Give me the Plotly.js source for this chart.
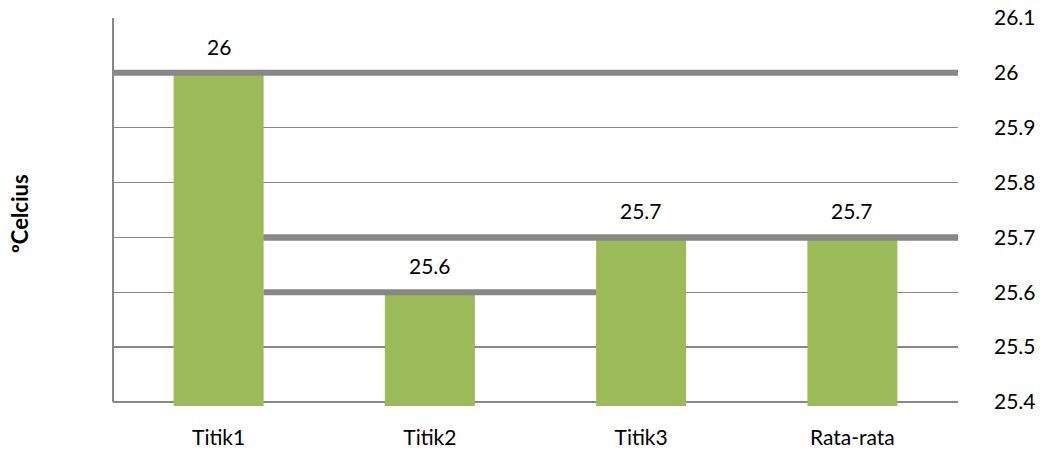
<!DOCTYPE html>
<html>
<head>
<meta charset="utf-8">
<script src="https://cdn.plot.ly/plotly-3.0.1.min.js"></script>
<style>html,body{margin:0;padding:0;background:#fff;}#chart{width:1048px;height:452px;}</style>
</head>
<body>
<div id="chart"></div>
<script>
var categories = ["Titik1", "Titik2", "Titik3", "Rata-rata"];
var values = [26, 25.6, 25.7, 25.7];
var tickVals = [25.4, 25.5, 25.6, 25.7, 25.8, 25.9, 26, 26.1];
var tickText = ["25.4", "25.5", "25.6", "25.7", "25.8", "25.9", "26", "26.1"];
var yTitle = "ºCelcius";

var FONT = "Lato, Carlito, Calibri, 'Liberation Sans', sans-serif";
var GRAY = "#878787";
var barFrac = 0.426;
var hw = barFrac / 2;
var n = categories.length;

// thick value lines (Excel-style artefact), y from data values
var spans = [
  [-0.5, n - 0.5],          // Titik1 line spans whole plot
  [0 + hw, 2 - hw],         // Titik2 line between neighbouring bars
  [0 + hw, n - 0.5],        // Titik3 line
  [0 + hw, n - 0.5]         // Rata-rata line
];

var shapes = [];
values.forEach(function (v, i) {
  shapes.push({
    type: "line", xref: "x", yref: "y", layer: "above",
    x0: spans[i][0], x1: spans[i][1], y0: v, y1: v,
    line: {color: GRAY, width: 6}
  });
});
// left border
shapes.push({
  type: "line", xref: "paper", yref: "y", layer: "above",
  x0: 0, x1: 0, y0: tickVals[0], y1: tickVals[tickVals.length - 1],
  line: {color: GRAY, width: 2}
});

var annotations = values.map(function (v, i) {
  return {
    x: categories[i], y: v, xref: "x", yref: "y",
    text: String(v), showarrow: false, yanchor: "bottom", yshift: 12,
    font: {family: FONT, size: 21, color: "#000"}
  };
});
annotations.push({
  xref: "paper", yref: "paper", x: -0.110, y: 0.495,
  text: "<b>" + yTitle + "</b>", textangle: -90, showarrow: false,
  xanchor: "center", yanchor: "middle",
  font: {family: FONT, size: 22, color: "#000"}
});

var trace = {
  type: "bar",
  x: categories,
  y: values,
  marker: {color: "#9BBB59", line: {width: 0}},
  hoverinfo: "x+y"
};

var layout = {
  width: 1048, height: 452,
  margin: {l: 113, r: 90, t: 18, b: 46, pad: 0},
  paper_bgcolor: "#fff", plot_bgcolor: "#fff",
  showlegend: false,
  bargap: 1 - barFrac,
  font: {family: FONT, color: "#000"},
  xaxis: {
    type: "category",
    range: [-0.5, n - 0.5],
    showgrid: false, zeroline: false, showline: false,
    ticks: "", ticklabelstandoff: 17,
    tickfont: {family: FONT, size: 21, color: "#000"}
  },
  yaxis: {
    side: "right",
    range: [25.3927, 26.1],
    tickvals: tickVals, ticktext: tickText,
    showgrid: true, gridcolor: GRAY, gridwidth: 1.5,
    zeroline: false, showline: false, ticks: "",
    ticklabelstandoff: 35,
    tickfont: {family: FONT, size: 21, color: "#000"}
  },
  shapes: shapes,
  annotations: annotations
};

Plotly.newPlot("chart", [trace], layout, {displayModeBar: false, staticPlot: true});
</script>
</body>
</html>
